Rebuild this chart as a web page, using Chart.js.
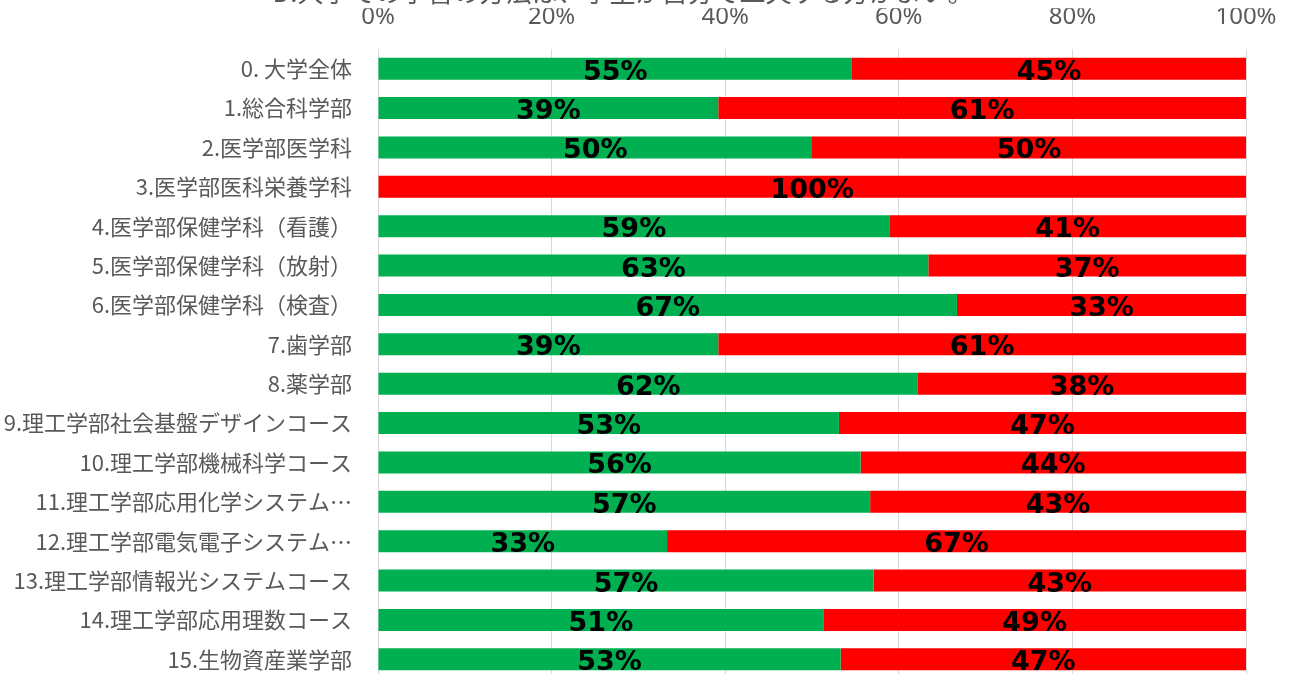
<!DOCTYPE html>
<html lang="ja">
<head>
<meta charset="utf-8">
<title>学習方法アンケート</title>
<script src="https://cdn.jsdelivr.net/npm/chart.js@4.4.1/dist/chart.umd.min.js"></script>
<style>
    html, body {
        margin: 0;
        padding: 0;
        background: #ffffff;
    }
    .frame {
        position: relative;
        width: 1292px;
        height: 674px;
        overflow: hidden;
    }
    #surveyChart {
        position: absolute;
        left: 0;
        top: -36px;
    }
</style>
</head>
<body>
<div class="frame">
    <canvas id="surveyChart" width="1292" height="722"></canvas>
</div>
<script>
const chartTitle = 'D.大学での学習の方法は、学生が自分で工夫する方がよい。';

const faculties = [
    '0. 大学全体',
    '1.総合科学部',
    '2.医学部医学科',
    '3.医学部医科栄養学科',
    '4.医学部保健学科（看護）',
    '5.医学部保健学科（放射）',
    '6.医学部保健学科（検査）',
    '7.歯学部',
    '8.薬学部',
    '9.理工学部社会基盤デザインコース',
    '10.理工学部機械科学コース',
    '11.理工学部応用化学システム…',
    '12.理工学部電気電子システム…',
    '13.理工学部情報光システムコース',
    '14.理工学部応用理数コース',
    '15.生物資産業学部'
];

// 割合 (%)
const agreeValues = [54.6, 39.2, 50.0, 0, 58.9, 63.4, 66.7, 39.2, 62.2, 53.1, 55.6, 56.7, 33.3, 57.1, 51.3, 53.3];
const disagreeValues = [45.4, 60.8, 50.0, 100, 41.1, 36.6, 33.3, 60.8, 37.8, 46.9, 44.4, 43.3, 66.7, 42.9, 48.7, 46.7];

const percentTicks = [0, 20, 40, 60, 80, 100];

const textColor = '#595959';
const gridColor = '#d9d9d9';

// 各区間の中央に値を描く
const barValueLabels = {
    id: 'barValueLabels',
    afterDatasetsDraw(chart) {
        const ctx = chart.ctx;
        ctx.save();
        ctx.font = 'bold 27px "DejaVu Sans", sans-serif';
        ctx.fillStyle = '#000000';
        ctx.textAlign = 'center';
        ctx.textBaseline = 'middle';
        chart.data.datasets.forEach((dataset, di) => {
            const meta = chart.getDatasetMeta(di);
            meta.data.forEach((bar, i) => {
                const value = dataset.data[i];
                if (!value) {
                    return;
                }
                const x = (bar.x + bar.base) / 2;
                ctx.fillText(Math.round(value) + '%', x, bar.y + 4);
            });
        });
        ctx.restore();
    }
};

new Chart(document.getElementById('surveyChart'), {
    type: 'bar',
    data: {
        labels: faculties,
        datasets: [{
            label: 'そう思う',
            data: agreeValues,
            backgroundColor: '#00b050',
            borderWidth: 0,
            barPercentage: 0.8,
            categoryPercentage: 0.7
        }, {
            label: 'そう思わない',
            data: disagreeValues,
            backgroundColor: '#ff0000',
            borderWidth: 0,
            barPercentage: 0.8,
            categoryPercentage: 0.7
        }]
    },
    options: {
        indexAxis: 'y',
        responsive: false,
        animation: false,
        layout: {
            padding: { left: 0, right: 46, top: 0, bottom: 7 }
        },
        plugins: {
            legend: { display: false },
            tooltip: { enabled: false },
            title: {
                display: true,
                text: chartTitle,
                color: textColor,
                font: { family: '"Noto Sans CJK JP", sans-serif', size: 26, weight: 'normal' },
                padding: { top: 13, bottom: 0 }
            }
        },
        scales: {
            x: {
                position: 'top',
                stacked: true,
                min: 0,
                max: 100,
                afterBuildTicks: (scale) => {
                    scale.ticks = percentTicks.map((v) => ({ value: v }));
                },
                afterFit: (scale) => {
                    scale.height = 40.8;
                    scale.paddingLeft = 0;
                    scale.paddingRight = 0;
                },
                ticks: {
                    color: textColor,
                    padding: 17,
                    font: { family: '"Noto Sans", sans-serif', size: 24 },
                    callback: (v) => v + '%'
                },
                grid: {
                    color: gridColor,
                    lineWidth: 1,
                    drawTicks: false
                },
                border: { display: false }
            },
            y: {
                stacked: true,
                afterFit: (scale) => {
                    scale.width = 378;
                    scale.paddingTop = 0;
                    scale.paddingBottom = 0;
                },
                ticks: {
                    color: textColor,
                    padding: 26,
                    autoSkip: false,
                    font: { family: '"Noto Sans CJK JP", sans-serif', size: 22 }
                },
                grid: { display: false, drawTicks: false },
                border: { display: false }
            }
        }
    },
    plugins: [barValueLabels]
});
</script>
</body>
</html>
